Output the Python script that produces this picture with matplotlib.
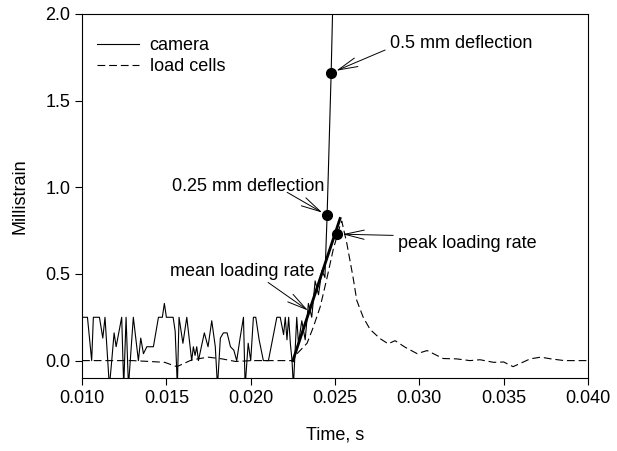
import matplotlib
matplotlib.use("Agg")
import matplotlib.pyplot as plt
from matplotlib.ticker import FormatStrFormatter

plt.rcParams['font.family'] = ['Liberation Sans', 'DejaVu Sans']

# 1. Dados
cam_t = [0.0100, 0.01032, 0.01057, 0.01067, 0.01103, 0.01123, 0.01136, 0.01162, 0.01176,
         0.0119, 0.01202, 0.01235, 0.01247, 0.01261, 0.01275, 0.01304, 0.01334, 0.01348,
         0.01364, 0.01384, 0.01423, 0.01453, 0.01476, 0.01488, 0.01500, 0.01540, 0.01552,
         0.01565, 0.01575, 0.01598, 0.01621, 0.0165, 0.0166, 0.0167, 0.0168, 0.0169,
         0.01725, 0.01747, 0.01769, 0.0179, 0.01803, 0.0182, 0.01838, 0.0186, 0.0188,
         0.0190, 0.01917, 0.01937, 0.01957, 0.01967, 0.01985, 0.0200, 0.02016, 0.0203,
         0.0205, 0.02075, 0.02105, 0.02135, 0.02155, 0.02175, 0.02195, 0.02205, 0.02215,
         0.02225, 0.02235, 0.02245, 0.02253, 0.02273, 0.02283, 0.02303, 0.02323, 0.02342,
         0.02362, 0.02382, 0.02402, 0.02422, 0.02440, 0.02453, 0.02477, 0.02490]
cam_v = [0.25, 0.25, 0.0, 0.25, 0.25, 0.13, 0.25, -0.15, 0.0,
         0.16, 0.08, 0.25, -0.15, 0.25, -0.15, 0.25, 0.0, 0.13,
         0.04, 0.08, 0.08, 0.25, 0.25, 0.33, 0.25, 0.25, 0.17,
         -0.15, 0.25, 0.10, 0.25, 0.0, 0.08, 0.03, 0.08, 0.0,
         0.16, 0.08, 0.23, 0.08, -0.15, 0.13, 0.16, 0.16, 0.08,
         0.06, 0.0, 0.13, 0.25, -0.15, 0.10, 0.0, 0.25, 0.25,
         0.12, 0.0, 0.0, 0.15, 0.25, 0.25, 0.15, 0.25, 0.12,
         0.25, 0.10, 0.0, -0.15, 0.25, 0.10, 0.23, 0.12, 0.33,
         0.25, 0.46, 0.38, 0.52, 0.48, 0.838, 1.66, 2.2]

load_t = [0.0100, 0.0110, 0.0120, 0.0130, 0.0140, 0.0149, 0.01562, 0.0165, 0.01747,
          0.0183, 0.0191, 0.02006, 0.0210, 0.0220, 0.0225, 0.02275, 0.02334, 0.0237,
          0.02412, 0.02453, 0.02489, 0.0253, 0.0254, 0.0257, 0.02607, 0.02629, 0.02667,
          0.02708, 0.02767, 0.02815, 0.02856, 0.02916, 0.02987, 0.03046, 0.03141, 0.0322,
          0.0330, 0.0336, 0.0344, 0.0350, 0.03556, 0.03657, 0.0372, 0.0378, 0.0386, 0.0400]
load_v = [0.0, 0.0, 0.0, 0.0, -0.005, -0.01, -0.035, 0.004, 0.02,
          0.01, -0.005, 0.0, 0.0, 0.0, 0.0, 0.04, 0.10, 0.19,
          0.31, 0.48, 0.64, 0.78, 0.805, 0.676, 0.48, 0.347, 0.25,
          0.18, 0.127, 0.097, 0.115, 0.077, 0.04, 0.058, 0.012, 0.01,
          0.0, 0.005, -0.01, -0.008, -0.035, 0.01, 0.02, 0.01, 0.0, 0.0]

# taxa media de carregamento (reta)
rate_t = [0.0225, 0.0253]
rate_v = [0.0, 0.82]

# pontos marcados
pt_t = [0.02453, 0.02477, 0.02512]
pt_v = [0.838, 1.66, 0.73]

# 2. Figura
fig = plt.figure(figsize=(6.17, 4.51), dpi=100)
ax = fig.add_axes([0.133, 0.162, 0.82, 0.807])

ax.plot(cam_t, cam_v, color='black', lw=0.8, label='camera')
ax.plot(load_t, load_v, color='black', lw=0.8, dashes=(7, 3.5), label='load cells')
ax.plot(rate_t, rate_v, color='black', lw=2.0)
ax.plot(pt_t, pt_v, 'o', color='black', markersize=7, zorder=5)

# 3. Anotacoes
fs = 13
seta = dict(arrowstyle='->,head_length=1.4,head_width=0.33', color='black', lw=0.7,
            shrinkA=0, shrinkB=4)
ax.annotate('', xy=(pt_t[1], pt_v[1]), xytext=(0.02797, 1.792), arrowprops=seta)
ax.text(0.02827, 1.827, '0.5 mm deflection', fontsize=fs, va='center')

ax.annotate('', xy=(pt_t[0], pt_v[0]), xytext=(0.02216, 0.971), arrowprops=seta)
ax.text(0.01534, 1.006, '0.25 mm deflection', fontsize=fs, va='center')

ax.annotate('', xy=(pt_t[2], pt_v[2]), xytext=(0.02845, 0.7225), arrowprops=seta)
ax.text(0.02874, 0.676, 'peak loading rate', fontsize=fs, va='center')

seta2 = dict(seta, shrinkB=0)
ax.annotate('', xy=(0.02340, 0.289), xytext=(0.02103, 0.451), arrowprops=seta2)
ax.text(0.01522, 0.514, 'mean loading rate', fontsize=fs, va='center')

# 4. Eixos
ax.set_xlim(0.010, 0.040)
ax.set_ylim(-0.1, 2.0)
ax.set_xticks([0.010, 0.015, 0.020, 0.025, 0.030, 0.035, 0.040])
ax.set_yticks([0.0, 0.5, 1.0, 1.5, 2.0])
ax.xaxis.set_major_formatter(FormatStrFormatter('%.3f'))
ax.yaxis.set_major_formatter(FormatStrFormatter('%.1f'))
ax.tick_params(direction='out', length=5, labelsize=13)
ax.set_xlabel('Time, s', fontsize=13, labelpad=14)
ax.set_ylabel('Millistrain', fontsize=13, labelpad=12)

ax.legend(loc='upper left', bbox_to_anchor=(0.012, 0.962), frameon=False, fontsize=13,
          handlelength=2.3, handletextpad=0.6, borderpad=0, labelspacing=0.25)

fig.savefig('out.png', dpi=100)
